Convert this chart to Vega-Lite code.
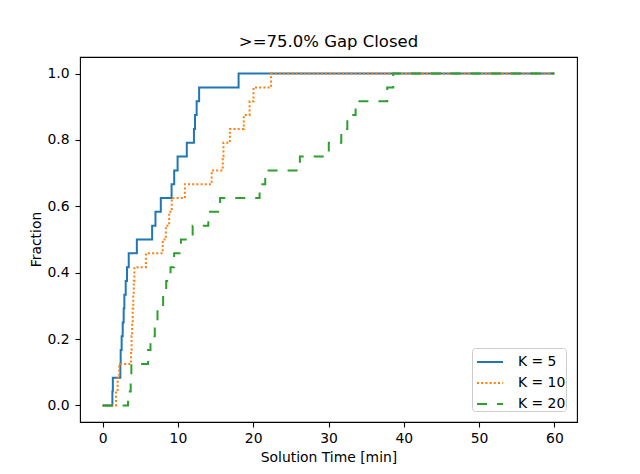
{
  "$schema": "https://vega.github.io/schema/vega-lite/v6.json",
  "autosize": {"type": "none"},
  "padding": {"left": 80, "top": 57, "right": 63, "bottom": 52},
  "width": 497,
  "height": 365,
  "background": "white",
  "title": {
    "text": ">=75.0% Gap Closed",
    "font": "DejaVu Sans",
    "fontSize": 16.5,
    "fontWeight": "normal",
    "color": "black",
    "anchor": "middle",
    "offset": 7
  },
  "data": {
    "values": [
      {"K": "K = 5", "t": 0, "frac": 0},
      {"K": "K = 5", "t": 1.30, "frac": 0.0417},
      {"K": "K = 5", "t": 1.36, "frac": 0.0833},
      {"K": "K = 5", "t": 2.36, "frac": 0.125},
      {"K": "K = 5", "t": 2.40, "frac": 0.1667},
      {"K": "K = 5", "t": 2.53, "frac": 0.2083},
      {"K": "K = 5", "t": 2.67, "frac": 0.25},
      {"K": "K = 5", "t": 2.80, "frac": 0.2917},
      {"K": "K = 5", "t": 2.89, "frac": 0.3333},
      {"K": "K = 5", "t": 3.07, "frac": 0.375},
      {"K": "K = 5", "t": 3.24, "frac": 0.4167},
      {"K": "K = 5", "t": 3.47, "frac": 0.4583},
      {"K": "K = 5", "t": 4.55, "frac": 0.5},
      {"K": "K = 5", "t": 6.58, "frac": 0.5417},
      {"K": "K = 5", "t": 7.02, "frac": 0.5833},
      {"K": "K = 5", "t": 7.73, "frac": 0.625},
      {"K": "K = 5", "t": 9.16, "frac": 0.6667},
      {"K": "K = 5", "t": 9.51, "frac": 0.7083},
      {"K": "K = 5", "t": 9.96, "frac": 0.75},
      {"K": "K = 5", "t": 11.18, "frac": 0.7917},
      {"K": "K = 5", "t": 12.13, "frac": 0.8333},
      {"K": "K = 5", "t": 12.27, "frac": 0.875},
      {"K": "K = 5", "t": 12.49, "frac": 0.9167},
      {"K": "K = 5", "t": 12.82, "frac": 0.9583},
      {"K": "K = 5", "t": 18.06, "frac": 1},
      {"K": "K = 5", "t": 60, "frac": 1},
      {"K": "K = 10", "t": 0, "frac": 0},
      {"K": "K = 10", "t": 1.78, "frac": 0.0417},
      {"K": "K = 10", "t": 2.0, "frac": 0.0833},
      {"K": "K = 10", "t": 2.2, "frac": 0.125},
      {"K": "K = 10", "t": 3.78, "frac": 0.1667},
      {"K": "K = 10", "t": 3.85, "frac": 0.2083},
      {"K": "K = 10", "t": 3.92, "frac": 0.25},
      {"K": "K = 10", "t": 4.0, "frac": 0.2917},
      {"K": "K = 10", "t": 4.07, "frac": 0.3333},
      {"K": "K = 10", "t": 4.14, "frac": 0.375},
      {"K": "K = 10", "t": 4.22, "frac": 0.4167},
      {"K": "K = 10", "t": 5.75, "frac": 0.4583},
      {"K": "K = 10", "t": 7.98, "frac": 0.5},
      {"K": "K = 10", "t": 8.4, "frac": 0.5417},
      {"K": "K = 10", "t": 8.84, "frac": 0.5833},
      {"K": "K = 10", "t": 9.18, "frac": 0.625},
      {"K": "K = 10", "t": 10.93, "frac": 0.6667},
      {"K": "K = 10", "t": 14.49, "frac": 0.7083},
      {"K": "K = 10", "t": 15.96, "frac": 0.75},
      {"K": "K = 10", "t": 16.05, "frac": 0.7917},
      {"K": "K = 10", "t": 16.9, "frac": 0.8333},
      {"K": "K = 10", "t": 18.75, "frac": 0.875},
      {"K": "K = 10", "t": 19.52, "frac": 0.9167},
      {"K": "K = 10", "t": 20.04, "frac": 0.9583},
      {"K": "K = 10", "t": 22.37, "frac": 1},
      {"K": "K = 10", "t": 60, "frac": 1},
      {"K": "K = 20", "t": 0, "frac": 0},
      {"K": "K = 20", "t": 3.38, "frac": 0.0417},
      {"K": "K = 20", "t": 3.73, "frac": 0.0833},
      {"K": "K = 20", "t": 3.82, "frac": 0.125},
      {"K": "K = 20", "t": 6.04, "frac": 0.1667},
      {"K": "K = 20", "t": 6.36, "frac": 0.2083},
      {"K": "K = 20", "t": 6.93, "frac": 0.25},
      {"K": "K = 20", "t": 7.29, "frac": 0.2917},
      {"K": "K = 20", "t": 8.04, "frac": 0.3333},
      {"K": "K = 20", "t": 8.45, "frac": 0.375},
      {"K": "K = 20", "t": 9.02, "frac": 0.4167},
      {"K": "K = 20", "t": 9.5, "frac": 0.4583},
      {"K": "K = 20", "t": 10.4, "frac": 0.5},
      {"K": "K = 20", "t": 11.96, "frac": 0.5417},
      {"K": "K = 20", "t": 14.04, "frac": 0.5833},
      {"K": "K = 20", "t": 15.6, "frac": 0.625},
      {"K": "K = 20", "t": 20.85, "frac": 0.6667},
      {"K": "K = 20", "t": 21.6, "frac": 0.7083},
      {"K": "K = 20", "t": 26.2, "frac": 0.75},
      {"K": "K = 20", "t": 30.04, "frac": 0.7917},
      {"K": "K = 20", "t": 31.7, "frac": 0.8333},
      {"K": "K = 20", "t": 32.5, "frac": 0.875},
      {"K": "K = 20", "t": 33.6, "frac": 0.9167},
      {"K": "K = 20", "t": 37.8, "frac": 0.9583},
      {"K": "K = 20", "t": 38.6, "frac": 1},
      {"K": "K = 20", "t": 60, "frac": 1}
    ]
  },
  "mark": {"type": "line", "interpolate": "step-after", "strokeWidth": 2},
  "encoding": {
    "x": {
      "field": "t",
      "type": "quantitative",
      "scale": {"domain": [-3, 63], "nice": false, "zero": false},
      "axis": {"values": [0, 10, 20, 30, 40, 50, 60], "format": "d", "title": "Solution Time [min]", "titleY": 35}
    },
    "y": {
      "field": "frac",
      "type": "quantitative",
      "scale": {"domain": [-0.05, 1.05], "nice": false, "zero": false},
      "axis": {"values": [0, 0.2, 0.4, 0.6, 0.8, 1.0], "format": ".1f", "title": "Fraction", "titleX": -44}
    },
    "color": {
      "field": "K",
      "type": "nominal",
      "sort": ["K = 5", "K = 10", "K = 20"],
      "scale": {"domain": ["K = 5", "K = 10", "K = 20"], "range": ["#1f77b4", "#ff7f0e", "#2ca02c"]},
      "legend": {"title": null}
    },
    "strokeDash": {
      "field": "K",
      "type": "nominal",
      "sort": ["K = 5", "K = 10", "K = 20"],
      "scale": {"domain": ["K = 5", "K = 10", "K = 20"], "range": [[1, 0], [2, 2.2], [10, 10]]},
      "legend": {"title": null}
    }
  },
  "config": {
    "font": "DejaVu Sans",
    "view": {"stroke": "black", "strokeWidth": 1.1},
    "axis": {
      "grid": false,
      "domain": false,
      "ticks": true,
      "tickColor": "black",
      "tickSize": 5,
      "tickWidth": 1.1,
      "labelFont": "DejaVu Sans",
      "labelFontSize": 13.9,
      "labelColor": "black",
      "titleFont": "DejaVu Sans",
      "titleFontSize": 13.9,
      "titleFontWeight": "normal",
      "titleColor": "black",
      "titleBaseline": "middle"
    },
    "axisX": {"labelPadding": 4, "labelAngle": 0},
    "axisY": {"labelPadding": 6, "titleY": 182},
    "legend": {
      "orient": "none",
      "legendX": 392,
      "legendY": 291,
      "fillColor": "white",
      "strokeColor": "#cccccc",
      "cornerRadius": 3,
      "padding": 0,
      "symbolType": "stroke",
      "symbolSize": 676,
      "symbolOffset": 4,
      "symbolStrokeWidth": 2,
      "labelFont": "DejaVu Sans",
      "labelFontSize": 13.9,
      "labelColor": "black",
      "labelOffset": 14,
      "rowPadding": -5
    }
  }
}
